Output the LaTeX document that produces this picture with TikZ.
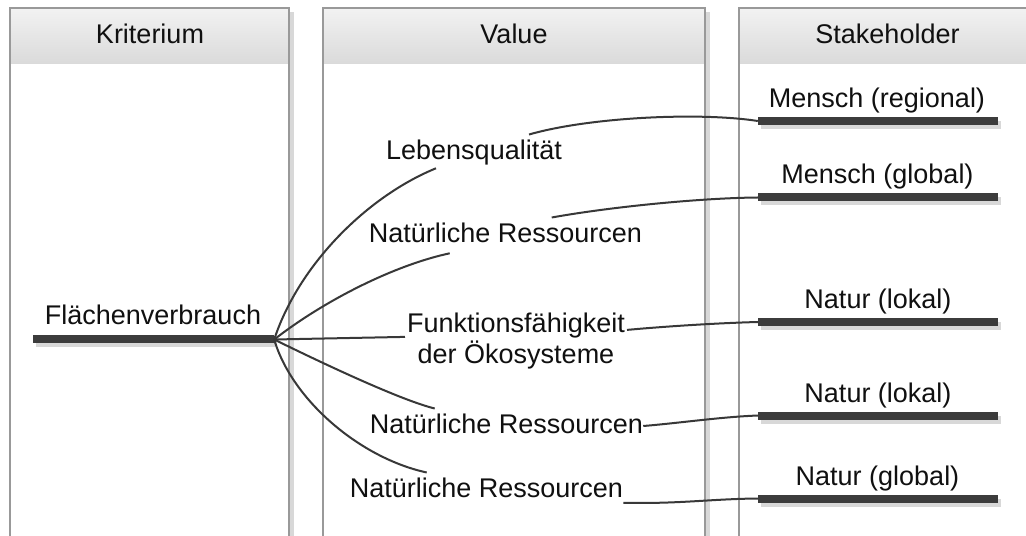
\documentclass[tikz,border=0pt]{standalone}
\usepackage{fontspec}
\setmainfont{Liberation Sans}
\usetikzlibrary{calc,shadows}
\definecolor{barcol}{HTML}{3C3C3C}
\definecolor{linecol}{HTML}{383838}
\definecolor{bordercol}{HTML}{999999}
\definecolor{shadowcol}{HTML}{D8D8D8}
\definecolor{hdtop}{HTML}{F2F2F2}
\definecolor{hdbot}{HTML}{DADADA}
\definecolor{txt}{HTML}{101010}
\begin{document}
\begin{tikzpicture}[x=1bp,y=-1bp,
  lbl/.style={font=\fontsize{27bp}{31bp}\selectfont, text=txt, inner sep=0pt},
  vlbl/.style={lbl, text height=19.6bp, text depth=5.6bp},
  bar/.style={fill=barcol, inner sep=0pt, minimum height=8bp, draw=none,
    drop shadow={shadow xshift=3bp, shadow yshift=-4bp, fill=shadowcol, opacity=1}},
  conn/.style={draw=linecol, line width=2bp},
  colframe/.style={draw=bordercol, line width=1.1bp},
  header/.style={top color=hdtop, bottom color=hdbot, draw=none},
  colshadow/.style={fill=shadowcol, draw=none}
]
\useasboundingbox (0,0) rectangle (1026,536);
\fill[white] (0,0) rectangle (1026,536);
\clip (0,0) rectangle (1026,536);

% columns
\fill[colshadow] (289.5,12) rectangle (294,540);
\fill[header] (10,8) rectangle (289,64);
\draw[colframe] (10,545) -- (10,8) -- (289,8) -- (289,545);

\fill[colshadow] (705.5,12) rectangle (710,540);
\fill[header] (323,8) rectangle (705,64);
\draw[colframe] (323,545) -- (323,8) -- (705,8) -- (705,545);

\fill[header] (739,8) rectangle (1040,64);
\draw[colframe] (739,545) -- (739,8) -- (1040,8);

% headers
\node[lbl, anchor=base] (hK) at (150,44) {Kriterium};
\node[lbl, anchor=base] (hV) at (514,44) {Value};
\node[lbl, anchor=base] (hS) at (887.5,44) {Stakeholder};

% criterion
\node[bar, minimum width=241bp] (fb) at (153.5,339.5) {};
\node[lbl, anchor=base] (fl) at (153,325) {Flächenverbrauch};

% values
\node[vlbl, anchor=base] (leb) at (474,160) {Lebensqualität};
\node[vlbl, anchor=base] (nr1) at (505.5,243) {Natürliche Ressourcen};
\node[lbl, align=center, anchor=north] (funk) at (516,312.6) {Funktionsfähigkeit\\der Ökosysteme};
\node[vlbl, anchor=base] (nr2) at (506.5,433) {Natürliche Ressourcen};
\node[vlbl, anchor=base] (nr3) at (486.5,497) {Natürliche Ressourcen};

% stakeholders
\node[bar, minimum width=240bp] (s1) at (878,121) {};
\node[lbl, anchor=base] (s1l) at (877,107.5) {Mensch (regional)};
\node[bar, minimum width=240bp] (s2) at (878,197.5) {};
\node[lbl, anchor=base] (s2l) at (877.5,184) {Mensch (global)};
\node[bar, minimum width=240bp] (s3) at (878,322) {};
\node[lbl, anchor=base] (s3l) at (878,308.5) {Natur (lokal)};
\node[bar, minimum width=240bp] (s4) at (878,415.5) {};
\node[lbl, anchor=base] (s4l) at (878,402) {Natur (lokal)};
\node[bar, minimum width=240bp] (s5) at (878,498.5) {};
\node[lbl, anchor=base] (s5l) at (877.5,485) {Natur (global)};

% connectors
\draw[conn] (fb.east) .. controls (299,264) and (368,196) .. ($(leb.south west)+(50,2.5)$);
\draw[conn] ($(leb.north east)+(-33,-5.7)$) .. controls (590,117) and (700,112) .. (s1.west);
\draw[conn] (fb.east) .. controls (325,300) and (395,265) .. ($(nr1.south west)+(81,4.5)$);
\draw[conn] ($(nr1.north west)+(183,-5.7)$) .. controls (610,207) and (700,198) .. (s2.west);
\draw[conn] (fb.east) -- ($(funk.north west)+(-2,24.3)$);
\draw[conn] ($(funk.north east)+(2,17.3)$) .. controls (670,326) and (720,323) .. (s3.west);
\draw[conn] (fb.east) .. controls (320,362) and (400,400) .. ($(nr2.north west)+(65,-4.7)$);
\draw[conn] (nr2.east) .. controls (680,423) and (720,417) .. (s4.west);
\draw[conn] (fb.east) .. controls (292,400) and (360,458) .. ($(nr3.north west)+(77,-4.7)$);
\draw[conn] (nr3.south east) .. controls (680,504) and (710,499) .. (s5.west);
\end{tikzpicture}
\end{document}
